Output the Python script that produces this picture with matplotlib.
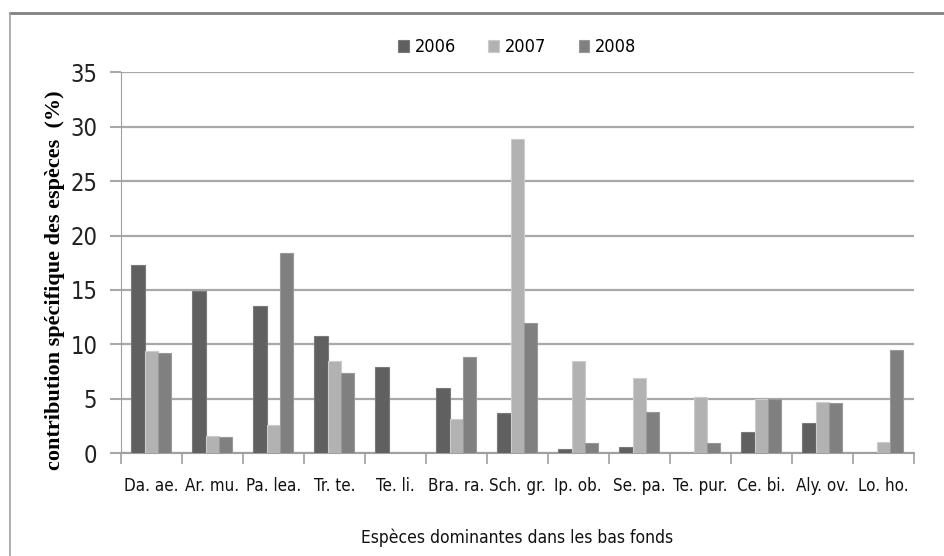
import matplotlib.pyplot as plt
import numpy as np
from matplotlib.lines import Line2D

# données
especes = ['Da. ae.', 'Ar. mu.', 'Pa. lea.', 'Tr. te.', 'Te. li.', 'Bra. ra.', 'Sch. gr.',
           'Ip. ob.', 'Se. pa.', 'Te. pur.', 'Ce. bi.', 'Aly. ov.', 'Lo. ho.']
annees = ['2006', '2007', '2008']
v2006 = [17.3, 14.9, 13.5, 10.8, 7.9, 6.0, 3.7, 0.4, 0.6, 0.0, 1.9, 2.8, 0.0]
v2007 = [9.4, 1.6, 2.6, 8.5, 0.0, 3.1, 28.9, 8.5, 6.9, 5.2, 5.0, 4.7, 1.0]
v2008 = [9.2, 1.5, 18.4, 7.4, 0.0, 8.8, 12.0, 0.9, 3.8, 0.9, 5.0, 4.6, 9.5]
yticks = [0, 5, 10, 15, 20, 25, 30, 35]

couleurs = ['#606060', '#b2b2b2', '#808080']
bords = ['#7a7a7a', '#cccccc', '#999999']

sans = {'family': 'DejaVu Sans', 'stretch': 'condensed'}

fig = plt.figure(figsize=(9.44, 5.56), dpi=100)
ax = fig.add_axes([0.128, 0.185, 0.840, 0.685])

x = np.arange(len(especes))
w = 0.22
for i, vals in enumerate([v2006, v2007, v2008]):
    ax.bar(x + (i - 1) * w, vals, width=w, color=couleurs[i], edgecolor=bords[i],
           linewidth=0.8, label=annees[i], zorder=3)

ax.set_xlim(-0.5, len(especes) - 0.5)
ax.set_ylim(0, 35)
ax.set_yticks(yticks)
ax.yaxis.grid(True, color='#a8a8a8', linewidth=1.6, zorder=0)
ax.set_axisbelow(True)

for s in ['top', 'right']:
    ax.spines[s].set_visible(False)
ax.spines['left'].set_color('#a0a0a0')
ax.spines['bottom'].set_color('#a0a0a0')
ax.spines['bottom'].set_linewidth(1.5)

ax.set_xticks(x)
ax.set_xticklabels(especes, fontsize=12.2, color='#111111', **sans)
ax.set_xticks(np.arange(-0.5, len(especes)), minor=True)
ax.tick_params(axis='x', which='major', length=0, pad=17)
ax.tick_params(axis='x', which='minor', length=8, color='#a0a0a0', width=1.2, direction='out')
ax.tick_params(axis='y', length=8, color='#a8a8a8', width=1.5, pad=9)
for t in ax.get_yticklabels():
    t.set_fontsize(17)
    t.set_fontfamily('DejaVu Sans')
    t.set_fontstretch('condensed')
    t.set_color('#222222')

ax.set_xlabel('Espèces dominantes dans les bas fonds', fontsize=12.5, labelpad=24,
              color='#111111', **sans)
ax.set_ylabel('contribution spécifique des espèces  (%)', fontsize=16,
              family='Liberation Serif', fontweight='bold')
ax.yaxis.set_label_coords(-0.07, 0.454)

leg = ax.legend(loc='center', bbox_to_anchor=(0.5, 1.066), ncol=3, frameon=False,
                prop={'size': 13, 'family': 'DejaVu Sans', 'stretch': 'condensed'},
                handlelength=0.6, handleheight=0.6, handletextpad=0.3, columnspacing=1.8)

# cadre extérieur (haut et gauche)
fig.add_artist(Line2D([10 / 944, 1.0], [1 - 13 / 556, 1 - 13 / 556], color='#808080', linewidth=2))
fig.add_artist(Line2D([10 / 944, 10 / 944], [0, 1 - 13 / 556], color='#a0a0a0', linewidth=1.2))

fig.savefig('out.png', dpi=100)
